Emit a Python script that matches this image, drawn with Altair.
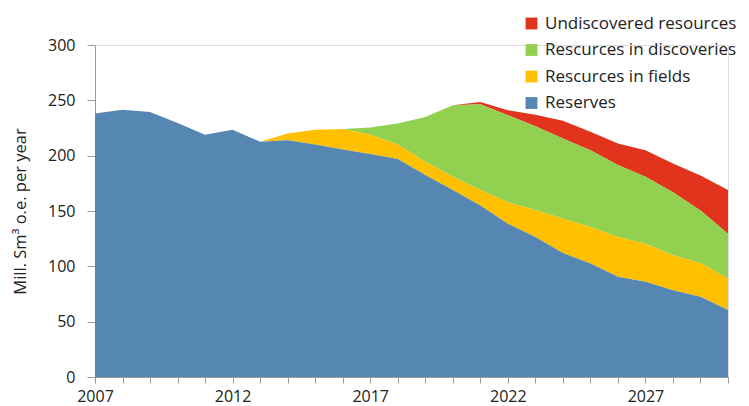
import altair as alt
import pandas as pd

years = list(range(2007, 2031))
reserves = [238, 241.5, 239.5, 229.5, 219, 223.5, 212.5, 214, 210, 205.5, 201.5, 197,
            182.5, 169, 155, 138.5, 126.5, 112, 102.5, 90.5, 86, 78.5, 72.5, 60.5]
fields = [0, 0, 0, 0, 0, 0, 0, 6, 13.5, 18.5, 17.5, 13, 12, 12, 14, 19.5, 24.5, 31,
          33, 36, 34.5, 31.5, 30.5, 28.5]
discoveries = [0, 0, 0, 0, 0, 0, 0, 0, 0, 0, 6.5, 19, 40.5, 64.5, 77.5, 78.5, 75.5,
               72.5, 69.5, 65, 60.5, 57, 47.5, 40.5]
undiscovered = [0, 0, 0, 0, 0, 0, 0, 0, 0, 0, 0, 0, 0, 0, 2, 4.5, 10.5, 16, 16.5,
                19.5, 24, 26, 31.5, 39.5]

series_names = ["Undiscovered resources", "Rescurces in discoveries",
                "Rescurces in fields", "Reserves"]
series_colors = ["#E2341D", "#92D050", "#FFC000", "#5686B2"]
series_values = [undiscovered, discoveries, fields, reserves]

rows = []
for name, vals in zip(series_names, series_values):
    stack_order = 3 - series_names.index(name)
    for y, v in zip(years, vals):
        rows.append({"year": y, "value": v, "series": name, "ord": stack_order})
df = pd.DataFrame(rows)

label_font = "Open Sans"

chart = alt.Chart(df).mark_area(interpolate="linear", opacity=1).encode(
    x=alt.X("year:Q",
            scale=alt.Scale(domain=[2007, 2030], nice=False, zero=False),
            axis=alt.Axis(values=years, title=None, grid=False, labelFlush=False,
                          labelExpr="(datum.value - 2007) % 5 == 0 ? datum.value : ''",
                          format="d", tickSize=6, labelPadding=5,
                          labelFontSize=16, labelFont=label_font, labelColor="#222",
                          domainColor="#999", tickColor="#999")),
    y=alt.Y("value:Q", stack="zero",
            scale=alt.Scale(domain=[0, 300], nice=False),
            axis=alt.Axis(values=[0, 50, 100, 150, 200, 250, 300],
                          title="Mill. Sm³ o.e. per year", grid=False,
                          tickSize=8, labelPadding=12,
                          labelFontSize=16, labelFont=label_font, labelColor="#222",
                          titleFont=label_font, titleFontSize=16.5, titleFontWeight="normal",
                          titleColor="#222", titlePadding=19,
                          domainColor="#999", tickColor="#999")),
    color=alt.Color("series:N",
                    scale=alt.Scale(domain=series_names, range=series_colors),
                    legend=alt.Legend(title=None, orient="none", legendX=428, legendY=-30,
                                      symbolType="square", symbolSize=140,
                                      symbolStrokeWidth=0, labelFontSize=17,
                                      labelFont=label_font, labelColor="#222",
                                      labelOffset=5, rowPadding=8.5, labelLimit=400)),
    order=alt.Order("ord:Q", sort="ascending"),
).properties(
    width=633, height=332,
    autosize=alt.AutoSizeParams(type="none"),
    padding={"left": 87, "top": 37, "right": 13, "bottom": 30},
).configure_view(stroke=None).configure(background="white")

chart.save("out.html", embed_options={"renderer": "svg", "actions": False})
